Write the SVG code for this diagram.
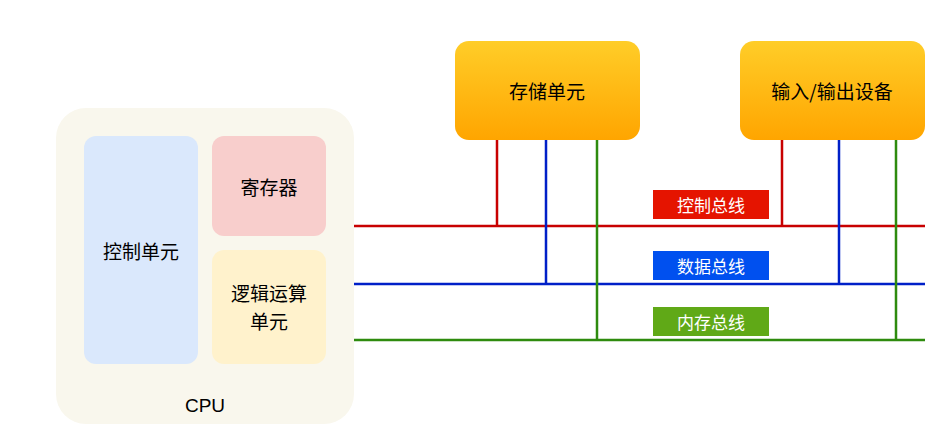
<svg xmlns="http://www.w3.org/2000/svg" width="935" height="447" viewBox="0 0 935 447">
<defs>
<linearGradient id="og" x1="0" y1="0" x2="0" y2="1"><stop offset="0" stop-color="#ffcd28"/><stop offset="1" stop-color="#ffa500"/></linearGradient>
<style>
text{font-family:"Noto Sans CJK SC","Liberation Sans",sans-serif;text-anchor:middle;dominant-baseline:central}
.t{font-size:19px;fill:#000}
.l{font-size:17px;fill:#fff}
.b{fill:none;stroke-width:2.5}
</style>
</defs>
<rect width="935" height="447" fill="#fff"/>
<g id="cpu"><rect x="56" y="108" width="298" height="316" rx="30" fill="#f9f7ed"/><text class="t" x="205" y="405" style="font-family:'Liberation Sans',sans-serif">CPU</text></g>
<g id="ctrl"><rect x="84" y="136" width="114" height="228" rx="12" fill="#dae8fc"/><text class="t" x="141" y="250">控制单元</text></g>
<g id="reg"><rect x="212" y="136" width="114" height="100" rx="12" fill="#f8cecc"/><text class="t" x="269" y="186">寄存器</text></g>
<g id="alu"><rect x="212" y="250" width="114" height="114" rx="12" fill="#fff2cc"/><text class="t" x="269" y="292">逻辑运算</text><text class="t" x="269" y="320">单元</text></g>
<g id="mem"><rect x="455" y="41" width="185" height="99" rx="14" fill="url(#og)"/><text class="t" x="547" y="90">存储单元</text></g>
<g id="io"><rect x="740" y="41" width="185" height="99" rx="14" fill="url(#og)"/><text class="t" x="832" y="90">输入/输出设备</text></g>
<g id="connectors">
<path class="b" stroke="#c80000" d="M354 226H925M497 140V226M782 140V226"/>
<path class="b" stroke="#0020c8" d="M354 284H925M546 140V284M839 140V284"/>
<path class="b" stroke="#2e8b0e" d="M354 340H925M597 140V340M896 140V340"/>
</g>
<g id="lbl-ctrl"><rect x="653" y="190" width="116" height="29" fill="#e51400"/><text class="l" x="711" y="204">控制总线</text></g>
<g id="lbl-data"><rect x="653" y="251" width="116" height="29" fill="#0050ef"/><text class="l" x="711" y="265">数据总线</text></g>
<g id="lbl-mem"><rect x="653" y="307" width="116" height="29" fill="#60a917"/><text class="l" x="711" y="321">内存总线</text></g>
</svg>
